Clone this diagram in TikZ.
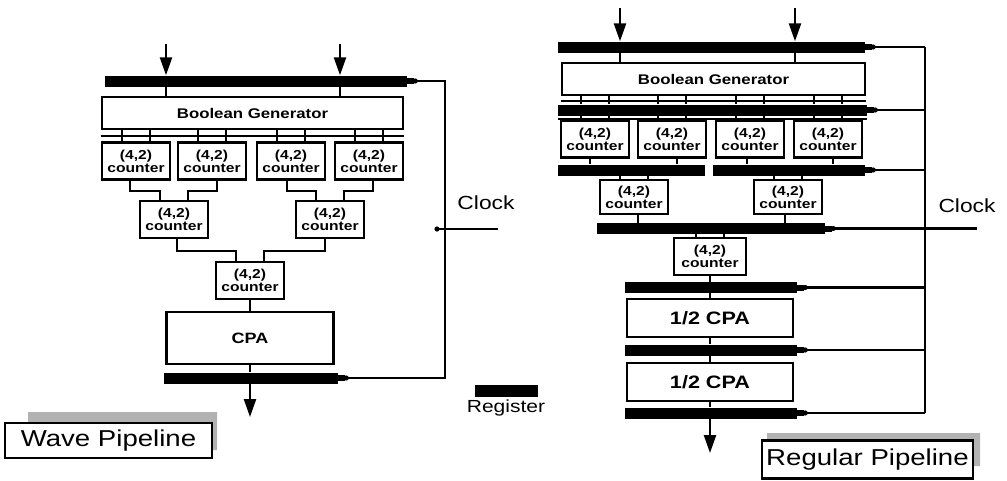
\documentclass[tikz,border=0pt]{standalone}
\usepackage{fontspec}
\setmainfont{Liberation Sans}[FakeStretch=1.2]
\usetikzlibrary{arrows.meta}
\newcommand\regtail[1]{\fill (#1.east) ++(0,-3) rectangle ++(7,6); \fill ([xshift=8pt]#1.east) circle (2.6);}
\begin{document}
\begin{tikzpicture}[x=1pt,y=-1pt,
  box/.style={draw,line width=2.6pt,fill=white,inner sep=0pt,align=center},
  cnt/.style={box,minimum width=68pt,minimum height=37pt,font=\bfseries\fontsize{13}{13}\selectfont},
  bg/.style={box,minimum width=302pt,minimum height=32pt,font=\bfseries\fontsize{14}{14}\selectfont},
  cpa/.style={box,minimum width=166pt,minimum height=38pt,font=\bfseries\fontsize{18}{18}\selectfont},
  wire/.style={line width=2.2pt},
  reg/.style={fill=black,inner sep=0pt,minimum height=11pt},
  clk/.style={line width=2.2pt},
  inarrow/.style={line width=2.4pt,-{Triangle[length=18pt,width=12pt]}},
  lbl/.style={draw,line width=2.2pt,fill=white,inner sep=0pt,font=\fontsize{23}{23}\selectfont},
  shadow/.style={fill=black!30},
  clock/.style={font=\fontsize{19}{19}\selectfont,inner sep=0pt}
]
\useasboundingbox (0,0) rectangle (1007,480);

% ================= LEFT: Wave pipeline =================
\coordinate (vL) at (437,0);
\node[reg,minimum width=302pt] (rLt) at (256,81) {};
\node[bg,minimum width=301pt] (BGL) at (252.5,113) {Boolean Generator};
\draw[wire] ([yshift=-6pt]BGL.south west) -- ([yshift=-6pt]BGL.south east);

\coordinate (aL1) at (166,44);
\coordinate (aL2) at (340,44);
\foreach \a in {aL1,aL2}{
  \draw[inarrow] (\a) -- (\a |- rLt.north);
  \draw[wire] (\a |- rLt.south) -- (\a |- BGL.north);
}

\node[cnt] (cA1) at (136,161) {(4,2)\\counter};
\node[cnt] (cA2) at (212,161) {(4,2)\\counter};
\node[cnt] (cA3) at (291,161) {(4,2)\\counter};
\node[cnt] (cA4) at (369,161) {(4,2)\\counter};
\foreach \n in {cA1,cA2,cA3,cA4}{
  \draw[wire] ([xshift=-14pt]\n.north) -- ([xshift=-14pt]\n.north |- BGL.south);
  \draw[wire] ([xshift=14pt]\n.north) -- ([xshift=14pt]\n.north |- BGL.south);
}

\node[cnt] (cB1) at (174,219.5) {(4,2)\\counter};
\node[cnt] (cB2) at (330,219.5) {(4,2)\\counter};
\draw[wire] ([xshift=-6pt]cA1.south) -- ++(0,10) -| ([xshift=-14pt]cB1.north);
\draw[wire] ([xshift=5pt]cA2.south) -- ++(0,10) -| ([xshift=14pt]cB1.north);
\draw[wire] ([xshift=-4pt]cA3.south) -- ++(0,10) -| ([xshift=-14pt]cB2.north);
\draw[wire] ([xshift=4pt]cA4.south) -- ++(0,10) -| ([xshift=14pt]cB2.north);

\node[cnt] (cC) at (250,280.5) {(4,2)\\counter};
\draw[wire] ([xshift=3pt]cB1.south) -- ++(0,12) -| ([xshift=-14pt]cC.north);
\draw[wire] ([xshift=-5pt]cB2.south) -- ++(0,12) -| ([xshift=14pt]cC.north);

\node[box,minimum width=167pt,minimum height=52pt,font=\bfseries\fontsize{15}{15}\selectfont] (CPAL) at (250,338) {CPA};
\draw[wire] (cC.south) -- (cC.south |- CPAL.north);

\node[reg,minimum width=174pt] (rLb) at (251,378) {};
\draw[wire] (CPAL.south) -- (CPAL.south |- rLb.north);
\coordinate (oL) at (250,417);
\draw[inarrow] (oL |- rLb.south) -- (oL);

\regtail{rLt}
\regtail{rLb}
\draw[clk] ([xshift=8pt]rLt.east) -| ([xshift=8pt]rLb.east -| vL) -- ([xshift=8pt]rLb.east);
\coordinate (ckL) at (498,229);
\draw[clk] (ckL -| vL) -- (ckL);
\fill (ckL -| vL) circle (2.6);
\node[clock] (clockL) at (486,203) {Clock};

% ================= LEGEND =================
\node[reg,minimum width=63pt,minimum height=12pt] (legreg) at (506.5,391) {};
\node[font=\fontsize{17.5}{17.5}\selectfont,inner sep=0pt] (legtxt) at (506,407.5) {Register};

% ================= RIGHT: Regular pipeline =================
\coordinate (vR) at (917,0);
\node[reg,minimum width=307pt] (r1) at (711.5,47) {};
\node[bg,minimum width=303pt] (BGR) at (713.5,79) {Boolean Generator};
\draw[wire] ([yshift=-5pt]BGR.south west) -- ([yshift=-5pt]BGR.south east);

\coordinate (aR1) at (620,8);
\coordinate (aR2) at (795,8);
\foreach \a in {aR1,aR2}{
  \draw[inarrow] (\a) -- (\a |- r1.north);
  \draw[wire] (\a |- r1.south) -- (\a |- BGR.north);
}

\node[reg,minimum width=309pt] (r2) at (712.5,110) {};
\draw[wire] ([yshift=-3pt]r2.south west) -- ([yshift=-3pt]r2.south east);

\node[cnt] (cD1) at (595,139) {(4,2)\\counter};
\node[cnt] (cD2) at (672,139) {(4,2)\\counter};
\node[cnt] (cD3) at (750,139) {(4,2)\\counter};
\node[cnt] (cD4) at (828,139) {(4,2)\\counter};
\foreach \n in {cD1,cD2,cD3,cD4}{
  \foreach \s in {-14,14}{
    \draw[wire] ([xshift=\s pt]\n.north |- BGR.south) -- ([xshift=\s pt]\n.north |- r2.north);
    \draw[wire] ([xshift=\s pt]\n.north |- r2.south) -- ([xshift=\s pt]\n.north);
  }
}

\node[reg,minimum width=147pt] (r3a) at (631.5,170) {};
\node[reg,minimum width=152pt] (r3b) at (789,170) {};
\draw[wire] ([xshift=-5pt]cD1.south) -- ([xshift=-5pt]cD1.south |- r3a.north);
\draw[wire] ([xshift=5pt]cD2.south) -- ([xshift=5pt]cD2.south |- r3a.north);
\draw[wire] ([xshift=-3pt]cD3.south) -- ([xshift=-3pt]cD3.south |- r3b.north);
\draw[wire] ([xshift=5pt]cD4.south) -- ([xshift=5pt]cD4.south |- r3b.north);

\node[cnt,minimum height=34pt] (cE1) at (634,197) {(4,2)\\counter};
\node[cnt,minimum height=34pt] (cE2) at (788,197) {(4,2)\\counter};
\foreach \s in {-14,14}{
  \draw[wire] ([xshift=\s pt]cE1.north |- r3a.south) -- ([xshift=\s pt]cE1.north);
  \draw[wire] ([xshift=\s pt]cE2.north |- r3b.south) -- ([xshift=\s pt]cE2.north);
}

\node[reg,minimum width=228pt] (r4) at (711,228.5) {};
\draw[wire] ([xshift=4pt]cE1.south) -- ([xshift=4pt]cE1.south |- r4.north);
\draw[wire] ([xshift=-3pt]cE2.south) -- ([xshift=-3pt]cE2.south |- r4.north);

\node[cnt,minimum width=72pt] (cF) at (710,256.5) {(4,2)\\counter};
\foreach \s in {-14,14}{
  \draw[wire] ([xshift=\s pt]cF.north |- r4.south) -- ([xshift=\s pt]cF.north);
}

\node[reg,minimum width=172pt] (r5) at (711,287.5) {};
\node[cpa] (CPA1) at (710,318) {1/2 CPA};
\node[reg,minimum width=172pt] (r6) at (711,350) {};
\node[cpa] (CPA2) at (710,382) {1/2 CPA};
\node[reg,minimum width=172pt] (r7) at (711,413) {};

\draw[wire] (cF.south) -- (cF.south |- r5.north);
\draw[wire] (CPA1.north |- r5.south) -- (CPA1.north);
\draw[wire] (CPA1.south) -- (CPA1.south |- r6.north);
\draw[wire] (CPA2.north |- r6.south) -- (CPA2.north);
\draw[wire] (CPA2.south) -- (CPA2.south |- r7.north);
\coordinate (oR) at (710,453);
\draw[inarrow] (oR |- r7.south) -- (oR);

\foreach \r in {r1,r2,r3b,r4,r5,r6,r7}{
  \regtail{\r}
}
\foreach \r in {r1,r2,r3b,r5,r6,r7}{
  \draw[clk] ([xshift=8pt]\r.east) -- ([xshift=8pt]\r.east -| vR);
}
\draw[clk] ([xshift=8pt]r1.east -| vR) -- ([xshift=8pt]r7.east -| vR);
\coordinate (ckR) at (977,228.5);
\draw[clk] ([xshift=8pt]r4.east) -- (ckR);
\node[clock] (clockR) at (967,205.5) {Clock};

% ================= LABELS =================
\fill[shadow] (28,412) -- (217,412) -- (217,450) -- (212,450) -- (212,423) -- (28,423) -- cycle;
\node[lbl,minimum width=207pt,minimum height=35pt] (wave) at (108.5,440.5) {Wave Pipeline};
\fill[shadow] (767,433) -- (980,433) -- (980,466) -- (973,466) -- (973,440) -- (767,440) -- cycle;
\node[lbl,minimum width=211pt,minimum height=38pt] (regular) at (867.5,459.5) {Regular Pipeline};
\end{tikzpicture}
\end{document}
